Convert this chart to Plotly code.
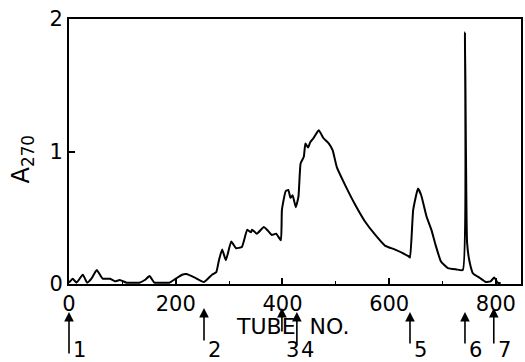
import plotly.graph_objects as go

tube = [0, 7, 14, 26, 34, 42, 52, 63, 77, 86, 95, 108, 120, 132, 142, 151, 160, 170, 188, 200,
        212, 220, 235, 253, 268, 276, 281, 287, 294, 304, 313, 324, 334, 341, 343, 352, 365, 371,
        380, 388, 397, 399, 406, 411, 415, 419, 425, 430, 434, 440, 443, 448, 452, 458, 468, 477,
        487, 494, 502, 517, 536, 555, 574, 592, 611, 636, 639, 645, 654, 660, 670, 679, 688, 697,
        710, 726, 738, 742, 746, 751, 757, 770, 781, 790, 797, 803, 809]
absorb = [0.01, 0.04, 0.01, 0.07, 0.01, 0.04, 0.105, 0.04, 0.04, 0.02, 0.03, 0.01, 0.01, 0.01, 0.03, 0.06, 0.01, 0.01, 0.01, 0.04,
          0.07, 0.075, 0.05, 0.015, 0.07, 0.09, 0.18, 0.26, 0.18, 0.32, 0.27, 0.28, 0.41, 0.39, 0.41, 0.38, 0.43, 0.41,
          0.37, 0.38, 0.33, 0.56, 0.70, 0.71, 0.65, 0.67, 0.58, 0.66, 0.91, 0.96, 1.06, 1.03, 1.07, 1.10, 1.16, 1.10,
          1.06, 1.01, 0.88, 0.75, 0.60, 0.47, 0.37, 0.29, 0.26, 0.21, 0.20, 0.56, 0.72, 0.67, 0.51, 0.41, 0.28, 0.17,
          0.12, 0.11, 0.105, 1.90, 0.31, 0.16, 0.08, 0.045, 0.015, 0.02, 0.05, 0.01, 0.005]

# Fraction markers (arrows under the axis)
marker_labels = ["1", "2", "3", "4", "5", "6", "7"]
marker_tubes = [0, 253, 399, 427, 639, 742, 796]

x_ticks = [0, 200, 400, 600, 800]
y_ticks = [0, 1, 2]

FONT = "DejaVu Sans"

fig = go.Figure()
fig.add_trace(go.Scatter(x=tube, y=absorb, mode="lines",
                         line=dict(color="black", width=2, shape="spline", smoothing=0.4),
                         showlegend=False, hoverinfo="skip"))

fig.update_layout(
    width=525, height=362,
    margin=dict(l=69, r=2, t=19, b=78),
    plot_bgcolor="white", paper_bgcolor="white",
    font=dict(family=FONT, size=21, color="black"),
    showlegend=False,
)
fig.update_xaxes(range=[0, 847], tickvals=x_ticks, ticktext=[str(v) for v in x_ticks],
                 ticks="inside", ticklen=6, tickwidth=1.5, tickcolor="black",
                 minor=dict(tickvals=[100, 300, 500, 700], ticks="inside", ticklen=3,
                            tickcolor="black", tickwidth=1),
                 showline=True, linecolor="black", linewidth=2, mirror=True,
                 showgrid=False, zeroline=False, tickfont=dict(size=21))
fig.update_yaxes(range=[0, 2], tickvals=y_ticks, ticktext=["0", "1", "2"],
                 ticks="inside", ticklen=6, tickwidth=1.5, tickcolor="black",
                 showline=True, linecolor="black", linewidth=2, mirror=True,
                 showgrid=False, zeroline=False, tickfont=dict(size=21))

# Axis titles
fig.add_annotation(text="A<sub>270</sub>", xref="paper", yref="paper",
                   x=-0.104, y=0.47, showarrow=False, textangle=-90,
                   font=dict(size=24), xanchor="center", yanchor="middle")
fig.add_annotation(text="TUBE  NO.", xref="paper", yref="paper",
                   x=(293 - 69) / 454, y=(284 - 326) / 265, showarrow=False,
                   font=dict(size=22), xanchor="center", yanchor="middle")

# Arrows and labels
head_px = [312, 308, 308, 312, 312, 312, 308]
tail_px = [355, 342, 333, 347, 345, 345, 345]
for lab, t, hp, tp in zip(marker_labels, marker_tubes, head_px, tail_px):
    fig.add_annotation(x=t, xref="x", y=(284 - hp) / 265, yref="paper",
                       text="", showarrow=True, ax=0, ay=tp - hp,
                       arrowhead=2, arrowsize=1.2, arrowwidth=1.6, arrowcolor="black")
    fig.add_annotation(x=t, xref="x", y=(284 - 350) / 265, yref="paper",
                       text=lab, showarrow=False, xanchor="left", xshift=2,
                       yanchor="middle", font=dict(size=21))

fig.write_html("out.html")
